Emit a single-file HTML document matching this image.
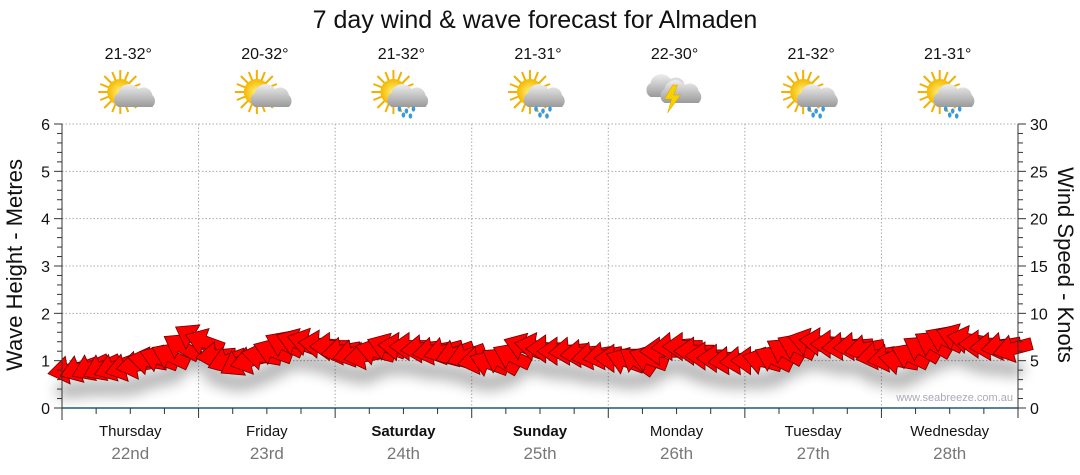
<!DOCTYPE html>
<html><head><meta charset="utf-8"><style>
body{margin:0;background:#fff;}
svg{display:block;font-family:"Liberation Sans",sans-serif;}
</style></head><body>
<svg id="chart" width="1080" height="475" viewBox="0 0 1080 475">
<defs>
<filter id="blur" x="-20%" y="-100%" width="140%" height="300%"><feGaussianBlur stdDeviation="7"/></filter>
<radialGradient id="sun" cx="50%" cy="50%" r="50%"><stop offset="0" stop-color="#fff27a"/><stop offset="1" stop-color="#f5b800"/></radialGradient>
<linearGradient id="cloud" x1="0" y1="0" x2="0" y2="1"><stop offset="0" stop-color="#eeeeee"/><stop offset="1" stop-color="#9a9a9a"/></linearGradient>
<g id="sunico"><g stroke="#f2b000" stroke-width="2">
<line x1="-22" y1="0" x2="22" y2="0"/><line x1="0" y1="-22" x2="0" y2="22"/><line x1="-16" y1="-16" x2="16" y2="16"/><line x1="-16" y1="16" x2="16" y2="-16"/>
<line x1="-20" y1="-8" x2="20" y2="8"/><line x1="-8" y1="-20" x2="8" y2="20"/><line x1="-20" y1="8" x2="20" y2="-8"/><line x1="8" y1="-20" x2="-8" y2="20"/></g>
<circle r="13" fill="url(#sun)"/></g>
<path id="cloudshape" d="M-14,10 a8,8 0 0 1 0,-14 a11,11 0 0 1 20,-4 a9,9 0 0 1 14,6 a8,8 0 0 1 0,12 z" fill="url(#cloud)"/>
</defs>
<text x="535" y="28" font-size="25" text-anchor="middle" fill="#111">7 day wind &amp; wave forecast for Almaden</text>
<g id="grid"></g>
<g id="shadow" filter="url(#blur)" opacity="0.3"></g>
<g id="arrows"></g>
<g id="axes"></g>
<g id="header"></g>
<text transform="translate(22,265) rotate(-90)" font-size="22" text-anchor="middle" fill="#111">Wave Height - Metres</text>
<text transform="translate(1058,265) rotate(90)" font-size="22" text-anchor="middle" fill="#111">Wind Speed - Knots</text>
<text x="1013" y="401" font-size="11" text-anchor="end" fill="#aab">www.seabreeze.com.au</text>
</svg>
<script>
const days=["Thursday","Friday","Saturday","Sunday","Monday","Tuesday","Wednesday"];
const dates=["22nd","23rd","24th","25th","26th","27th","28th"];
const temps=["21-32°","20-32°","21-32°","21-31°","22-30°","21-32°","21-31°"];
const weather=["cloudsun","cloudsun","rainsun","rainsun","storm","rainsun","rainsun"];
const waveTicks=[0,1,2,3,4,5,6];
const windTicks=[0,5,10,15,20,25,30];
const waveHeights=[0.8,0.82,0.85,0.85,0.85,0.85,0.9,1.0,1.05,1.1,1.3,1.5,
1.4,1.1,1.0,0.95,1.0,1.1,1.2,1.35,1.4,1.4,1.35,1.3,
1.2,1.15,1.1,1.2,1.3,1.3,1.3,1.25,1.2,1.2,1.15,1.1,
1.0,0.95,1.0,1.1,1.3,1.3,1.25,1.2,1.2,1.15,1.1,1.1,
1.05,1.0,1.0,1.05,1.2,1.3,1.3,1.2,1.1,1.05,1.0,1.0,
1.0,1.0,1.05,1.2,1.3,1.4,1.4,1.35,1.3,1.3,1.25,1.1,
1.05,1.0,1.1,1.25,1.35,1.45,1.5,1.45,1.35,1.3,1.3,1.25];
const windDir=[170,160,155,155,160,165,170,190,200,205,210,210,
200,175,160,150,165,190,200,205,200,195,185,180,
170,165,170,195,200,185,180,175,170,165,160,160,
170,200,210,205,200,190,180,180,175,175,170,170,
180,200,215,200,180,175,180,180,180,180,175,175,
180,195,205,210,205,195,185,180,175,175,170,170,
170,190,205,210,210,205,200,190,180,175,170,165];

const NS="http://www.w3.org/2000/svg";
const X0=62,X1=1018,Y0=408,Y1=124;
const dayW=(X1-X0)/7;
const yW=v=>Y0-(v/6)*(Y0-Y1);
const yK=v=>Y0-(v/30)*(Y0-Y1);
const xT=i=>X0+(i+0.5)*(X1-X0)/waveHeights.length;
function mk(tag,attrs,parent){const e=document.createElementNS(NS,tag);for(const k in attrs)e.setAttribute(k,attrs[k]);parent.appendChild(e);return e;}
const grid=document.getElementById('grid'),axes=document.getElementById('axes'),arrows=document.getElementById('arrows'),shadow=document.getElementById('shadow'),header=document.getElementById('header');
waveTicks.forEach(v=>{if(v>0){const l=mk('line',{x1:X0,x2:X1,y1:yW(v),y2:yW(v),stroke:'#aaa','stroke-dasharray':'1.5,2'},grid);

}
const t=mk('text',{x:50,y:yW(v)+6,'font-size':16,'text-anchor':'end',fill:'#111'},axes);t.textContent=v;

});
for(let i=0;i<=30;i++){const v=i*0.2;mk('line',{x1:X0-(i%5==0?8:5),x2:X0,y1:yW(v),y2:yW(v),stroke:'#333'},axes);}
windTicks.forEach(v=>{const t=mk('text',{x:1030,y:yK(v)+6,'font-size':16,fill:'#111'},axes);t.textContent=v;

});
for(let i=0;i<=30;i++){mk('line',{x1:X1,x2:X1+(i%5==0?8:5),y1:yK(i),y2:yK(i),stroke:'#333'},axes);}
mk('line',{x1:X0,x2:X0,y1:Y1,y2:Y0+12,stroke:'#333'},axes);
mk('line',{x1:X1,x2:X1,y1:Y1,y2:Y0,stroke:'#333'},axes);
mk('line',{x1:X0,x2:X1,y1:Y0,y2:Y0,stroke:'#1f5a7a','stroke-width':1.5},axes);
for(let i=0;i<=28;i++){const x=X0+i*dayW/4;mk('line',{x1:x,x2:x,y1:Y0,y2:Y0+(i%4==0?10:6),stroke:'#333'},axes);}
days.forEach((d,i)=>{const cx=X0+(i+0.5)*dayW;
if(i>0){const l=mk('line',{x1:X0+i*dayW,x2:X0+i*dayW,y1:Y1,y2:Y0,stroke:'#aaa','stroke-dasharray':'1.5,2'},grid);

}
const bold=(d=="Saturday"||d=="Sunday");
const t=mk('text',{x:cx,y:436,'font-size':15,'text-anchor':'middle',fill:'#111','font-weight':bold?'bold':'normal'},axes);t.textContent=d;


const t2=mk('text',{x:cx,y:459,'font-size':17,'text-anchor':'middle',fill:'#777'},axes);t2.textContent=dates[i];


const t3=mk('text',{x:cx-2,y:59,'font-size':16,'text-anchor':'middle',fill:'#111'},header);t3.textContent=temps[i];


const g=mk('g',{transform:`translate(${cx-4},95)`},header);


const w=weather[i];
if(w!="storm"){mk('use',{href:'#sunico',x:-6,y:-3},g);mk('use',{href:'#cloudshape',x:6,y:2},g);
if(w=="rainsun"){[[0,14],[7,16],[14,14],[4,20],[11,21]].forEach(p=>mk('ellipse',{cx:p[0],cy:p[1],rx:1.8,ry:2.6,fill:'#3a9ad9'},g));}}
else{mk('use',{href:'#cloudshape',x:-8,y:-8},g);mk('use',{href:'#cloudshape',x:6,y:-2},g);
mk('polygon',{points:'0,-10 -8,4 -1,4 -5,18 8,0 1,0 5,-10',fill:'#f7d000',stroke:'#d9a400','stroke-width':0.5},g);}
});
const arrowPts="-20,0 0,-14 0,-6 20,-6 20,6 0,6 0,14";
waveHeights.forEach((h,i)=>{const x=xT(i),y=yW(h);
mk('ellipse',{cx:x,cy:y+20,rx:12,ry:8,fill:'#000'},shadow);
const p=mk('polygon',{points:arrowPts,transform:`translate(${x},${y}) rotate(${windDir[i]-180})`,fill:'#ff0000',stroke:'#6a0000','stroke-width':0.8},arrows);

});
</script>
</body></html>
